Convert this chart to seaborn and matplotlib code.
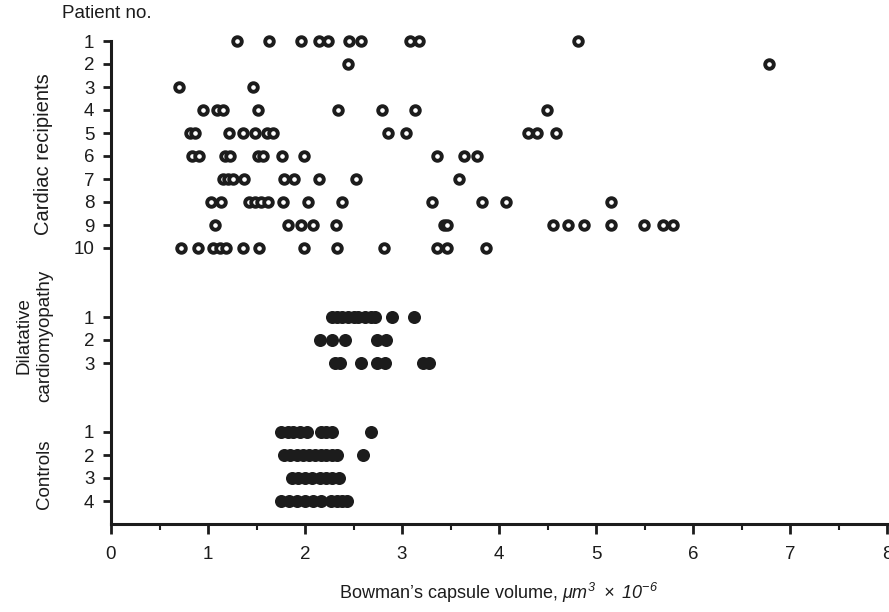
import matplotlib
matplotlib.use("Agg")
import matplotlib.pyplot as plt
import seaborn as sns
import pandas as pd
from matplotlib.ticker import MultipleLocator

# ---------------- data ----------------
cardiac = {
    1: [1.30, 1.63, 1.96, 2.14, 2.24, 2.45, 2.58, 3.08, 3.18, 4.81],
    2: [2.44, 6.78],
    3: [0.70, 1.46],
    4: [0.95, 1.09, 1.15, 1.52, 2.34, 2.79, 3.13, 4.49],
    5: [0.81, 0.87, 1.22, 1.36, 1.48, 1.61, 1.67, 2.86, 3.04, 4.30, 4.39, 4.59],
    6: [0.84, 0.91, 1.18, 1.23, 1.52, 1.57, 1.76, 1.99, 3.36, 3.64, 3.77],
    7: [1.15, 1.21, 1.26, 1.37, 1.78, 1.89, 2.14, 2.53, 3.59],
    8: [1.03, 1.13, 1.42, 1.48, 1.55, 1.62, 1.77, 2.03, 2.38, 3.31, 3.82, 4.07, 5.15],
    9: [1.07, 1.82, 1.96, 2.08, 2.32, 3.43, 3.46, 4.56, 4.71, 4.88, 5.15, 5.49, 5.69, 5.79],
    10: [0.72, 0.90, 1.05, 1.12, 1.19, 1.36, 1.53, 1.99, 2.33, 2.81, 3.36, 3.46, 3.87],
}
dilatative = {
    1: [2.28, 2.33, 2.38, 2.44, 2.50, 2.55, 2.62, 2.68, 2.72, 2.90, 3.12],
    2: [2.15, 2.28, 2.41, 2.74, 2.84],
    3: [2.31, 2.36, 2.58, 2.74, 2.82, 3.22, 3.28],
}
controls = {
    1: [1.75, 1.82, 1.88, 1.95, 2.02, 2.17, 2.22, 2.28, 2.68],
    2: [1.78, 1.85, 1.92, 1.98, 2.04, 2.10, 2.16, 2.22, 2.28, 2.33, 2.60],
    3: [1.87, 1.93, 2.00, 2.07, 2.15, 2.22, 2.28, 2.35],
    4: [1.75, 1.83, 1.92, 2.00, 2.08, 2.17, 2.27, 2.33, 2.38, 2.43],
}
group_offsets = {"Cardiac": 0, "Dilatative": 12, "Controls": 17}
x_ticks = [0, 1, 2, 3, 4, 5, 6, 7, 8]

rows = []
for grp, d in (("Cardiac", cardiac), ("Dilatative", dilatative), ("Controls", controls)):
    for pno, vals in d.items():
        for v in vals:
            rows.append({"group": grp, "patient": pno,
                         "pos": group_offsets[grp] + pno - 1, "volume": v})
df = pd.DataFrame(rows)

# ---------------- figure ----------------
sns.set_theme(style="ticks")
plt.rcParams["font.family"] = ["Liberation Sans", "DejaVu Sans"]
plt.rcParams["mathtext.fontset"] = "custom"
plt.rcParams["mathtext.it"] = "Liberation Sans:italic"
plt.rcParams["mathtext.rm"] = "Liberation Sans:italic"

W, H = 889, 612
fig = plt.figure(figsize=(W / 100, H / 100), dpi=100)
ax = fig.add_axes([111 / W, 1 - 524 / H, 776 / W, (524 - 41) / H])

ink = "#1c1c1c"
open_df = df[df["group"] == "Cardiac"]
fill_df = df[df["group"] != "Cardiac"]
sns.scatterplot(data=open_df, x="volume", y="pos", ax=ax, marker="o", s=38,
                facecolor="white", edgecolor=ink, linewidth=2.8, clip_on=False,
                legend=False, zorder=3)
sns.scatterplot(data=fill_df, x="volume", y="pos", ax=ax, marker="o", s=88,
                color=ink, edgecolor=ink, linewidth=0, clip_on=False,
                legend=False, zorder=3)

ax.set_xlim(0, 8)
ax.set_ylim(21, 0)
ax.set_xlabel("")
ax.set_ylabel("")

yt = []
yl = []
for grp, d in (("Cardiac", cardiac), ("Dilatative", dilatative), ("Controls", controls)):
    for pno in d:
        yt.append(group_offsets[grp] + pno - 1)
        yl.append(str(pno))
ax.set_yticks(yt)
ax.set_yticklabels(yl)
ax.set_xticks(x_ticks)
ax.set_xticklabels([str(t) for t in x_ticks])
ax.xaxis.set_minor_locator(MultipleLocator(0.5))

fs = 13.5
ax.tick_params(axis="both", which="major", labelsize=fs, colors=ink, width=2, length=6)
ax.tick_params(axis="x", which="major", pad=9, length=7)
ax.tick_params(axis="x", which="minor", width=1.5, length=4, color=ink)
ax.tick_params(axis="y", pad=6)
for s in ("top", "right"):
    ax.spines[s].set_visible(False)
for s in ("left", "bottom"):
    ax.spines[s].set_linewidth(2.2)
    ax.spines[s].set_color(ink)
ax.spines["left"].set_bounds(0, 21)

# group labels
def ftext(x, y, s, size=fs, **kw):
    fig.text(x / W, 1 - y / H, s, fontsize=size, color=ink, **kw)

ftext(62, 14, "Patient no.", ha="left", va="center")
ftext(44, 154, "Cardiac recipients", size=14.5, rotation=90, ha="center", va="center")
ftext(34, 336, "Dilatative\ncardiomyopathy", rotation=90, ha="center", va="center",
      multialignment="center", linespacing=1.3)
ftext(44, 474, "Controls", rotation=90, ha="center", va="center")
ftext(499, 593, r"Bowman’s capsule volume, $\mu m^3\ \times\ 10^{-6}$",
      size=13, ha="center", va="center")

fig.savefig("out.png", dpi=100, facecolor="white")
